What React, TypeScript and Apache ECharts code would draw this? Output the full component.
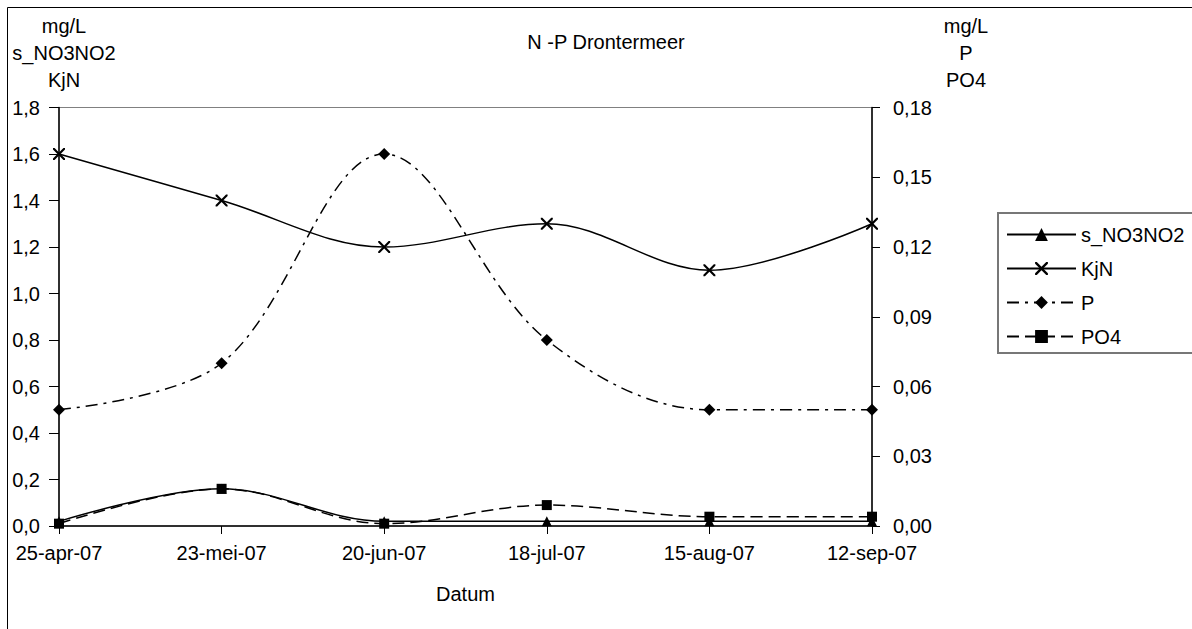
import React, { useEffect, useRef } from "react";
import * as echarts from "echarts";

const categories = ["25-apr-07", "23-mei-07", "20-jun-07", "18-jul-07", "15-aug-07", "12-sep-07"];
const sNO3NO2 = [0.02, 0.16, 0.02, 0.02, 0.02, 0.02];
const kjN = [1.6, 1.4, 1.2, 1.3, 1.1, 1.3];
const pTotal = [0.05, 0.07, 0.16, 0.08, 0.05, 0.05];
const po4 = [0.001, 0.016, 0.001, 0.009, 0.004, 0.004];
const leftNameLines = ["mg/L", "s_NO3NO2", "KjN"];
const rightNameLines = ["mg/L", "P", "PO4"];

const FONT = "'Liberation Sans', Arial, sans-serif";
const FS = 20;
const X_SYMBOL =
  "path://M0,0L1.3,0L5,3.7L8.7,0L10,0L10,1.3L6.3,5L10,8.7L10,10L8.7,10L5,6.3L1.3,10L0,10L0,8.7L3.7,5L0,1.3Z";

export default function App() {
  const ref = useRef<HTMLDivElement>(null);
  useEffect(() => {
    if (!ref.current) return;
    const chart = echarts.init(ref.current, null, { renderer: "svg" });
    const lineYs = [26, 53, 80];
    const graphics: any[] = [
      {
        type: "rect",
        shape: { x: 7.5, y: 7.5, width: 1250, height: 700 },
        style: { fill: "none", stroke: "#000", lineWidth: 1 },
        silent: true,
      },
      {
        type: "rect",
        shape: { x: 998, y: 213, width: 260, height: 140 },
        style: { fill: "#fff", stroke: "#777", lineWidth: 2 },
        z: -1,
        silent: true,
      },
    ];
    leftNameLines.forEach((t, i) =>
      graphics.push({
        type: "text",
        x: 64,
        y: lineYs[i],
        style: { text: t, fontSize: FS, fontFamily: FONT, fill: "#000", align: "center", verticalAlign: "middle" },
      })
    );
    rightNameLines.forEach((t, i) =>
      graphics.push({
        type: "text",
        x: 966,
        y: lineYs[i],
        style: { text: t, fontSize: FS, fontFamily: FONT, fill: "#000", align: "center", verticalAlign: "middle" },
      })
    );

    const baseLine = { color: "#000", width: 1.5 };
    chart.setOption({
      animation: false,
      backgroundColor: "#fff",
      textStyle: { fontFamily: FONT, color: "#000" },
      title: {
        text: "N -P Drontermeer",
        left: 601,
        top: 27,
        textAlign: "center",
        textStyle: { fontSize: FS, fontWeight: "normal", color: "#000", fontFamily: FONT },
      },
      graphic: graphics,
      legend: {
        orient: "vertical",
        left: 1006,
        top: 223,
        itemWidth: 69,
        itemHeight: 16,
        itemGap: 11,
        padding: 0,
        textStyle: { fontSize: FS, color: "#000", fontFamily: FONT, lineHeight: 23 },
        data: ["s_NO3NO2", "KjN", "P", "PO4"],
      },
      grid: {
        left: 59,
        right: 320,
        top: 107.5,
        bottom: 103,
        show: true,
        borderColor: "#808080",
        borderWidth: 1,
        backgroundColor: "transparent",
      },
      xAxis: {
        type: "category",
        data: categories,
        boundaryGap: false,
        axisLine: { lineStyle: { color: "#000", width: 1.5 } },
        axisTick: { show: true, length: 8, lineStyle: { color: "#000" } },
        axisLabel: { margin: 17, fontSize: FS, color: "#000", fontFamily: FONT },
        name: "Datum",
        nameLocation: "middle",
        nameGap: 58,
        nameTextStyle: { fontSize: FS, color: "#000", fontFamily: FONT },
        splitLine: { show: false },
      },
      yAxis: [
        {
          type: "value",
          min: 0,
          max: 1.8,
          interval: 0.2,
          position: "left",
          axisLine: { show: true, lineStyle: { color: "#000", width: 1.5 } },
          axisTick: { show: true, length: 10, lineStyle: { color: "#000" } },
          axisLabel: {
            margin: 19,
            fontSize: FS,
            color: "#000",
            fontFamily: FONT,
            formatter: (v: number) => v.toFixed(1).replace(".", ","),
          },
          splitLine: { show: false },
        },
        {
          type: "value",
          min: 0,
          max: 0.18,
          interval: 0.03,
          position: "right",
          axisLine: { show: true, lineStyle: { color: "#000", width: 1.5 } },
          axisTick: { show: true, length: 8, lineStyle: { color: "#000" } },
          axisLabel: {
            margin: 21,
            fontSize: FS,
            color: "#000",
            fontFamily: FONT,
            formatter: (v: number) => v.toFixed(2).replace(".", ","),
          },
          splitLine: { show: false },
        },
      ],
      series: [
        {
          name: "s_NO3NO2",
          type: "line",
          yAxisIndex: 0,
          data: sNO3NO2,
          smooth: 0.35,
          symbol: "triangle",
          symbolSize: 10,
          lineStyle: { ...baseLine, type: "solid" },
          itemStyle: { color: "#000" },
        },
        {
          name: "KjN",
          type: "line",
          yAxisIndex: 0,
          data: kjN,
          smooth: 0.35,
          symbol: X_SYMBOL,
          symbolSize: 12,
          lineStyle: { ...baseLine, type: "solid" },
          itemStyle: { color: "#000" },
        },
        {
          name: "P",
          type: "line",
          yAxisIndex: 1,
          data: pTotal,
          smooth: 0.35,
          symbol: "diamond",
          symbolSize: 12,
          lineStyle: { ...baseLine, type: [12, 6, 3, 6] },
          itemStyle: { color: "#000" },
        },
        {
          name: "PO4",
          type: "line",
          yAxisIndex: 1,
          data: po4,
          smooth: 0.35,
          symbol: "rect",
          symbolSize: 10,
          lineStyle: { ...baseLine, type: [12, 6] },
          itemStyle: { color: "#000" },
        },
      ],
    });
    return () => chart.dispose();
  }, []);
  return (
    <div
      ref={ref}
      style={{ position: "absolute", left: 0, top: 0, width: 1192, height: 629, background: "#fff" }}
    />
  );
}
